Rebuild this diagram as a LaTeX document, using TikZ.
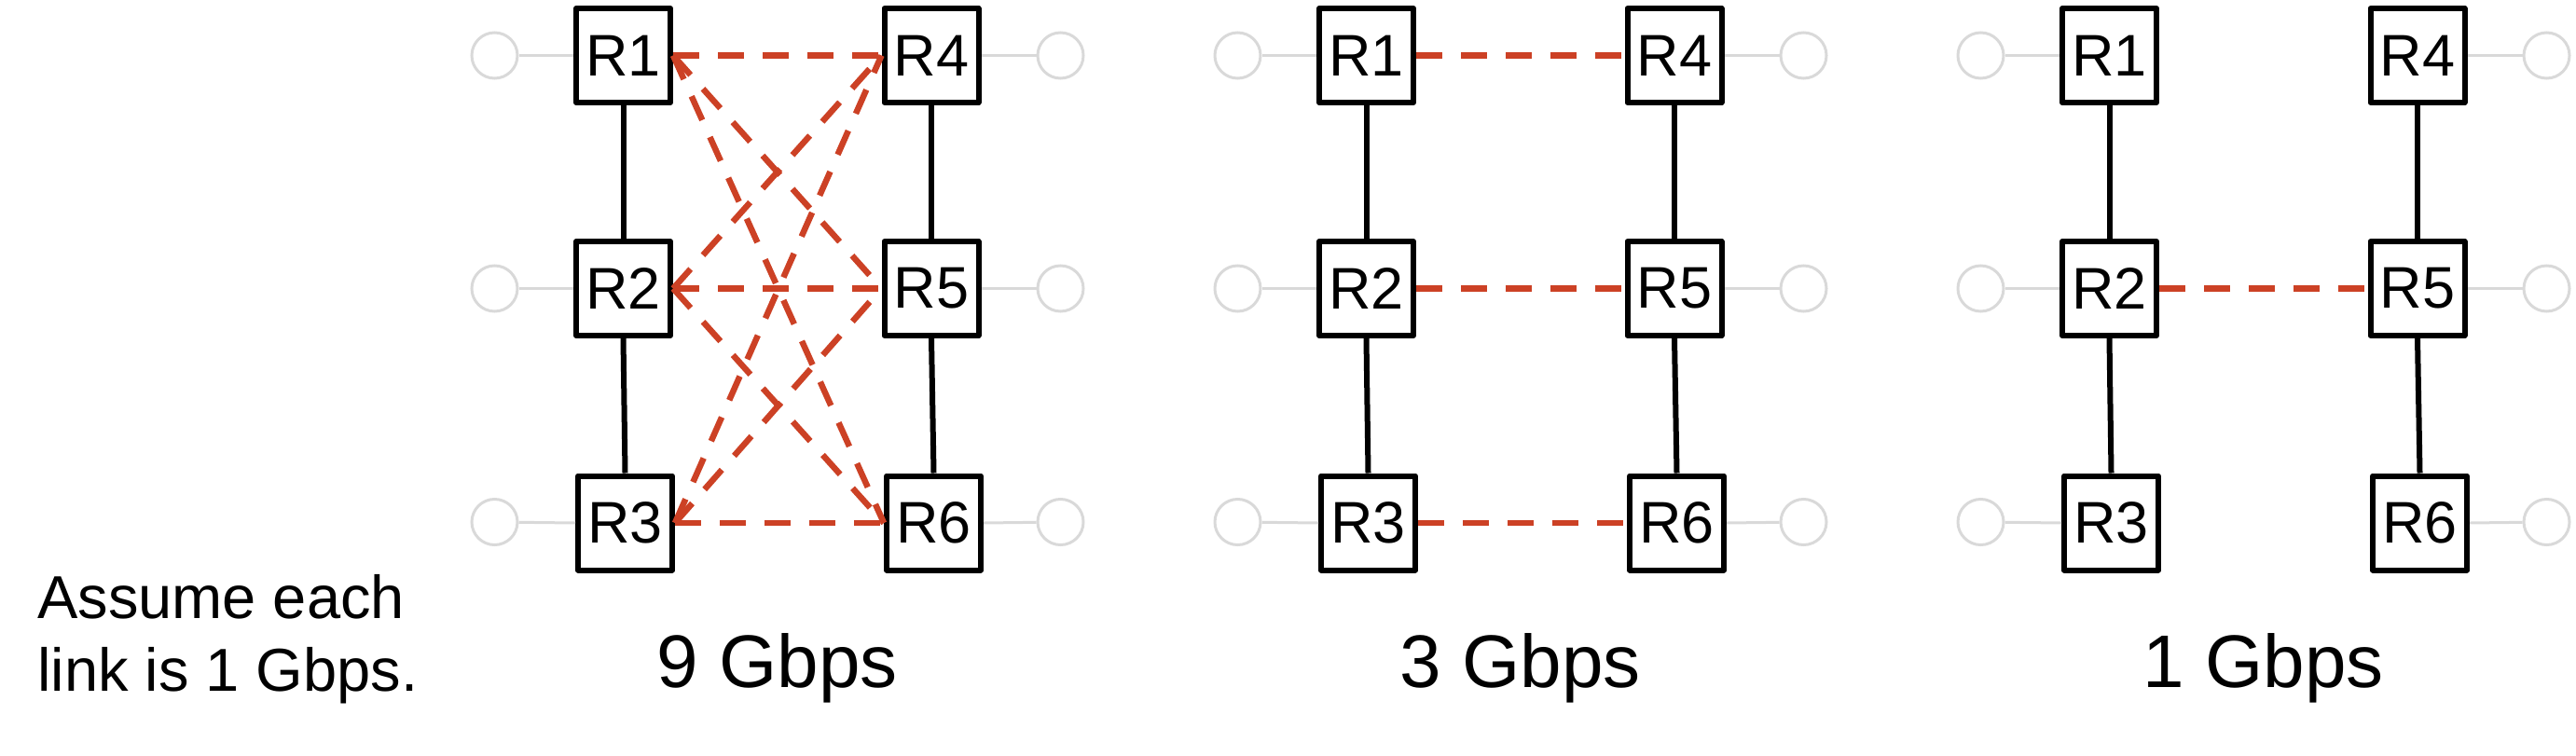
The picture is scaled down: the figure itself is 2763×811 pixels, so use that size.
\documentclass[tikz,border=0pt]{standalone}
\usepackage{fontspec}
\setmainfont{Liberation Sans}
\definecolor{linkred}{HTML}{CC4125}
\definecolor{hostgray}{HTML}{D9D9D9}
\begin{document}
\begin{tikzpicture}[x=1pt,y=-1pt,
  router/.style={draw=black, line width=6pt, fill=white, minimum width=101pt,
    minimum height=101pt, inner sep=0pt, line join=round,
    font=\fontsize{63}{63}\selectfont},
  host/.style={circle, draw=hostgray, line width=3pt, minimum size=49pt, inner sep=0pt},
  hostlink/.style={draw=hostgray, line width=3pt},
  trunk/.style={draw=black, line width=6pt},
  flow/.style={draw=linkred, line width=6.5pt, dash pattern=on 28pt off 20pt},
  rate/.style={font=\fontsize{80}{80}\selectfont, anchor=base},
  note/.style={font=\fontsize{65}{78}\selectfont, anchor=base west, inner sep=0pt}]
\useasboundingbox (0,0) rectangle (2763,811);

\foreach \p/\dx in {a/0,b/797,c/1594}{
  % routers
  \node[router] (\p1) at (668.5+\dx,59.5) {R1};
  \node[router] (\p2) at (668.5+\dx,309.5) {R2};
  \node[router] (\p3) at (670.5+\dx,561) {R3};
  \node[router] (\p4) at (999+\dx,59.5) {R4};
  \node[router] (\p5) at (999+\dx,309.5) {R5};
  \node[router] (\p6) at (1001.5+\dx,561) {R6};
  % hosts
  \node[host] (\p h1) at (530.5+\dx,59.5) {};
  \node[host] (\p h2) at (530.5+\dx,309.5) {};
  \node[host] (\p h3) at (530.5+\dx,560) {};
  \node[host] (\p h4) at (1137.5+\dx,59.5) {};
  \node[host] (\p h5) at (1137.5+\dx,309.5) {};
  \node[host] (\p h6) at (1137.5+\dx,560) {};
  \draw[hostlink] (\p h1) -- (\p1.west);
  \draw[hostlink] (\p h2) -- (\p2.west);
  \draw[hostlink] (\p h3) -- (\p3.west);
  \draw[hostlink] (\p h4) -- (\p4.east);
  \draw[hostlink] (\p h5) -- (\p5.east);
  \draw[hostlink] (\p h6) -- (\p6.east);
  % trunks
  \draw[trunk] (\p1.south) -- (\p2.north);
  \draw[trunk] (\p2.south) -- (\p3.north);
  \draw[trunk] (\p4.south) -- (\p5.north);
  \draw[trunk] (\p5.south) -- (\p6.north);
}

% flows, panel 1: every pair
\foreach \i in {1,2,3}{
  \foreach \j in {4,5,6}{
    \draw[flow] (a\i.east) -- (a\j.west);
  }
}
% panel 2
\draw[flow] (b1.east) -- (b4.west);
\draw[flow] (b2.east) -- (b5.west);
\draw[flow] (b3.east) -- (b6.west);
% panel 3
\draw[flow] (c2.east) -- (c5.west);

% labels
\node[rate] (rateA) at (833.7,737) {9 Gbps};
\node[rate] (rateB) at (1630.7,737) {3 Gbps};
\node[rate] (rateC) at (2427.7,737) {1 Gbps};
\node[note] (noteA) at (40,663.3) {Assume each};
\node[note] (noteB) at (40,741) {link is 1 Gbps.};
\end{tikzpicture}
\end{document}
